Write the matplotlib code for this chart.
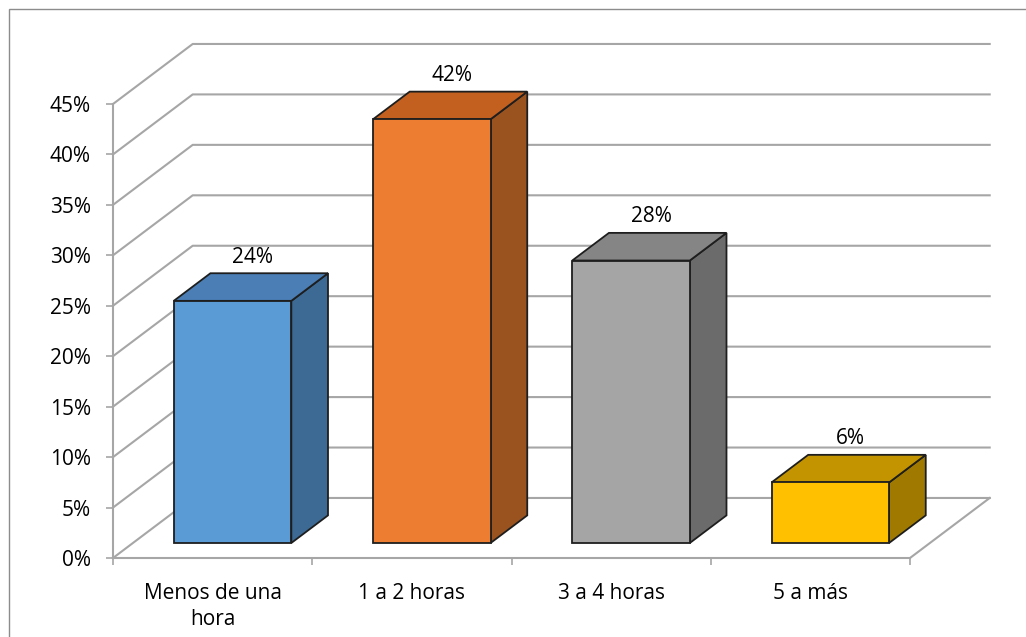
import numpy as np
import matplotlib
matplotlib.use("Agg")
import matplotlib.pyplot as plt
from matplotlib.patches import Polygon, Rectangle
from matplotlib.ticker import FuncFormatter

# data
categories = ["Menos de una\nhora", "1 a 2 horas", "3 a 4 horas", "5 a más"]
values = [24, 42, 28, 6]
value_labels = ["24%", "42%", "28%", "6%"]
y_ticks = [0, 5, 10, 15, 20, 25, 30, 35, 40, 45]

front_colors = ["#5b9bd5", "#ed7d31", "#a5a5a5", "#ffc000"]
top_colors = ["#4a7eb5", "#c3601f", "#858585", "#c49400"]
side_colors = ["#3c6a94", "#9a521f", "#6b6b6b", "#a07a00"]

plt.rcParams["font.family"] = ["Open Sans", "DejaVu Sans"]
FS = 15

fig = plt.figure(figsize=(10.26, 6.37), dpi=100)
ax = fig.add_axes([113 / 1026, 79 / 637, 797 / 1026, 454 / 637])
n = len(categories)
ax.set_xlim(-0.5, n - 0.5)
ax.set_ylim(0, 45)

# depth offset of the 3d box (in data units)
DX = 0.40
DY = 5.95
grid_col = "#a6a6a6"
grid_lw = 1.5

# back wall gridlines + left wall diagonals
for v in y_ticks:
    ax.plot([-0.5, -0.5 + DX, n - 0.5 + DX], [v, v + DY, v + DY],
            color=grid_col, lw=grid_lw, clip_on=False, zorder=1)
# floor right edge
ax.plot([n - 0.5, n - 0.5 + DX], [0, DY], color=grid_col, lw=grid_lw,
        clip_on=False, zorder=1)

# bars
hw = 0.295
d0, d1 = 0.25, 0.71
for i, v in enumerate(values):
    x0 = i - hw + d0 * DX
    x1 = i + hw + d0 * DX
    yb = d0 * DY
    yt = v + d0 * DY
    ddx = (d1 - d0) * DX
    ddy = (d1 - d0) * DY
    ec = "#1e1e1e"
    side = Polygon([(x1, yb), (x1 + ddx, yb + ddy), (x1 + ddx, yt + ddy), (x1, yt)],
                   closed=True, fc=side_colors[i], ec=ec, lw=1.3, clip_on=False, zorder=3)
    top = Polygon([(x0, yt), (x1, yt), (x1 + ddx, yt + ddy), (x0 + ddx, yt + ddy)],
                  closed=True, fc=top_colors[i], ec=ec, lw=1.3, clip_on=False, zorder=3)
    front = Rectangle((x0, yb), x1 - x0, v, fc=front_colors[i], ec=ec, lw=1.3,
                      clip_on=False, zorder=4)
    ax.add_patch(side)
    ax.add_patch(top)
    ax.add_patch(front)
    ax.text(i + 0.2, v + d1 * DY + 1.6, value_labels[i], ha="center", va="center",
            fontsize=FS, color="#000000", zorder=5, clip_on=False)

# axes
for s in ["top", "right"]:
    ax.spines[s].set_visible(False)
for s in ["left", "bottom"]:
    ax.spines[s].set_color(grid_col)
    ax.spines[s].set_linewidth(grid_lw)
    ax.spines[s].set_zorder(2)

ax.set_yticks(y_ticks)
ax.yaxis.set_major_formatter(FuncFormatter(lambda v, p: f"{int(v)}%"))
ax.tick_params(axis="y", length=5, width=1.2, color=grid_col, pad=11,
               labelsize=FS, labelcolor="#000000")

ax.set_xticks(np.arange(n + 1) - 0.5)
ax.set_xticklabels([])
ax.tick_params(axis="x", which="major", length=5, width=1.2, color=grid_col)
ax.set_xticks(np.arange(n), minor=True)
ax.set_xticklabels(categories, minor=True)
ax.tick_params(axis="x", which="minor", length=0, pad=18, labelsize=FS,
               labelcolor="#000000")
for lab in ax.get_xticklabels(minor=True):
    lab.set_linespacing(1.3)

ax.set_facecolor("none")

# outer chart frame
fig.patches.append(Rectangle((9 / 1026, -0.1), 1.2, (637 - 9) / 637 + 0.1,
                             transform=fig.transFigure, fill=False,
                             ec="#8c8c8c", lw=1.0))

fig.savefig("out.png", dpi=100)
